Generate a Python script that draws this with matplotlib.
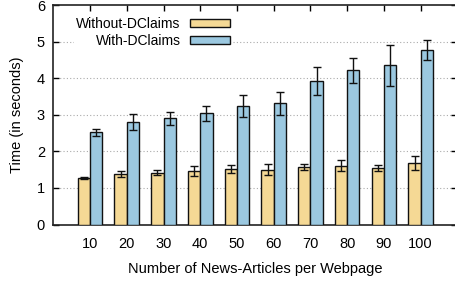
import matplotlib
matplotlib.use('Agg')
import matplotlib.pyplot as plt
import numpy as np

plt.rcParams['font.family'] = ['Liberation Sans', 'DejaVu Sans']

# data
articles = ['10', '20', '30', '40', '50', '60', '70', '80', '90', '100']
without_mean = [1.27, 1.37, 1.42, 1.46, 1.52, 1.50, 1.57, 1.60, 1.55, 1.67]
without_err = [0.03, 0.08, 0.08, 0.13, 0.10, 0.15, 0.08, 0.15, 0.08, 0.19]
with_mean = [2.52, 2.80, 2.90, 3.04, 3.24, 3.31, 3.93, 4.21, 4.35, 4.78]
with_err = [0.10, 0.21, 0.17, 0.21, 0.31, 0.32, 0.38, 0.35, 0.56, 0.27]

yellow = '#f5d995'
blue = '#9bc8e0'

fig = plt.figure(figsize=(4.55, 2.81), dpi=100)
ax = fig.add_axes([53.3 / 455, 1 - 224.5 / 281, (457.4 - 53.3) / 455, (224.5 - 5) / 281])

x = np.arange(1, len(articles) + 1)
w = 0.335

err_kw = dict(ecolor='#111111', elinewidth=1.0, capsize=3, capthick=1.0)
ax.bar(x - w / 2, without_mean, w, yerr=without_err, color=yellow,
       edgecolor='#111111', linewidth=1.0, label='Without-DClaims',
       error_kw=err_kw, zorder=3)
ax.bar(x + w / 2, with_mean, w, yerr=with_err, color=blue,
       edgecolor='#111111', linewidth=1.0, label='With-DClaims',
       error_kw=err_kw, zorder=3)

ax.set_xlim(0, 11)
ax.set_ylim(0, 6)
ax.set_xticks(x)
ax.set_xticklabels(articles)
ax.set_yticks(range(0, 7))

# dotted horizontal grid
for yv in range(1, 6):
    ax.axhline(yv, color='#aaaaaa', linestyle=(0, (1, 2)), linewidth=0.8, zorder=1)

ax.tick_params(axis='both', direction='in', labelsize=10.5, length=4, width=1)
ax.tick_params(axis='x', bottom=False, top=True, pad=9)
ax.tick_params(axis='y', right=True, pad=6)
for s in ax.spines.values():
    s.set_linewidth(1.2)
    s.set_color('#222222')

ax.set_xlabel('Number of News-Articles per Webpage', fontsize=10.5, labelpad=8)
ax.set_ylabel('Time (in seconds)', fontsize=10.5, labelpad=9)

leg = ax.legend(loc='upper left', bbox_to_anchor=(0.05, 0.958), frameon=True,
                fontsize=10, markerfirst=False, handlelength=2.9, handleheight=0.55,
                borderpad=0.2, labelspacing=0.22, handletextpad=0.65,
                borderaxespad=0)
leg.get_frame().set_edgecolor('none')
leg.get_frame().set_facecolor('white')
leg.get_frame().set_alpha(1)
leg.set_zorder(5)
for t in leg.get_texts():
    t.set_ha('right')
    t.set_position((0, 0))

fig.savefig('out.png', dpi=100)
